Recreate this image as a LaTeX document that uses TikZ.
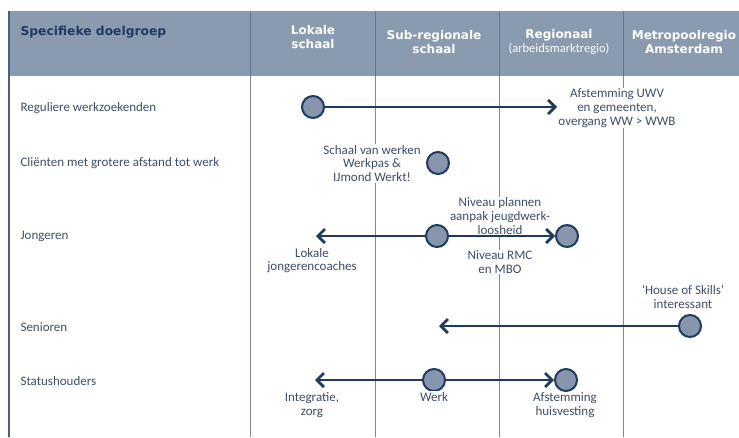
\documentclass[tikz,border=0pt]{standalone}
\usepackage{fontspec}
\setmainfont{Carlito}
\newfontfamily\kopfont{DejaVu Sans}
\usetikzlibrary{arrows.meta,positioning}
\definecolor{kopgrijs}{HTML}{8A9AAF}
\definecolor{navy}{HTML}{1F3A60}
\definecolor{bolgrijs}{HTML}{8796AD}
\definecolor{tekst}{HTML}{3F4F66}
\definecolor{lijn}{HTML}{7D8A9D}
\begin{document}
\begin{tikzpicture}[x=1pt,y=-1pt,
    groep/.style={anchor=west, text=tekst, font=\fontsize{13}{14}\selectfont},
    kop/.style={align=center, text=white, font=\kopfont\bfseries\fontsize{12}{14}\selectfont},
    uitleg/.style={align=center, fill=white, inner sep=1pt, text=tekst, font=\fontsize{13}{13.8}\selectfont},
    bol/.style={draw=navy, fill=bolgrijs, circle, line width=2pt, minimum size=22pt, inner sep=0pt},
    pijl/.style={draw=navy, line width=2.8pt, -{Straight Barb[length=7pt,width=14pt]}}]
    \useasboundingbox (0,0) rectangle (739,437);

    % kopregel
    \fill[kopgrijs] (9,11) rectangle (745,76);
    \node[anchor=west, text=navy, font=\kopfont\bfseries\fontsize{12.3}{14}\selectfont] (K0) at (17,32) {Specifieke doelgroep};
    \node[kop] (K1) at (313,37) {Lokale\\schaal};
    \node[kop] (K2) at (434,42) {Sub-regionale\\schaal};
    \node[kop] (K3) at (559,42) {Regionaal\\{\rmfamily\mdseries\fontsize{12.5}{14}\selectfont(arbeidsmarktregio)}};
    \node[kop] (K4) at (684,42) {Metropoolregio\\Amsterdam};

    % kolomlijnen
    \draw[navy!80, line width=1.2pt] (9,11) -- (9,437);
    \foreach \x in {250,375,499,623} {
        \draw[navy!70, line width=0.8pt] (\x,11) -- (\x,76);
        \draw[lijn, line width=0.7pt] (\x,76) -- (\x,437);
    }

    % doelgroepen
    \node[groep] (G1) at (17,108) {Reguliere werkzoekenden};
    \node[groep] (G2) at (17,163) {Cliënten met grotere afstand tot werk};
    \node[groep] (G3) at (17,236) {Jongeren};
    \node[groep] (G4) at (17,327) {Senioren};
    \node[groep] (G5) at (17,381) {Statushouders};

    % toelichting
    \node[uitleg] (T1) at (617,108) {Afstemming UWV\\en gemeenten,\\overgang WW > WWB};
    \node[uitleg] (T2) at (372,163.5) {Schaal van werken\\Werkpas \&\\IJmond Werkt!};
    \node[uitleg] (T3) at (500,216) {Niveau plannen\\aanpak jeugdwerk-\\loosheid};
    \node[uitleg] (T4) at (500,262) {Niveau RMC\\en MBO};
    \node[uitleg] (T5) at (312,260.5) {Lokale\\jongerencoaches};
    \node[uitleg] (T6) at (683,297) {`House of Skills'\\interessant};
    \node[uitleg] (T7) at (312,405) {Integratie,\\zorg};
    \node[uitleg] (T9) at (565,405) {Afstemming\\huisvesting};

    % bollen
    \node[bol] (A) at (313,107) {};
    \node[bol] (B) at (438,163) {};
    \node[bol] (C) at (437,236) {};
    \node[bol] (D) at (567,236) {};
    \node[bol] (E) at (690,326) {};
    \node[bol] (F) at (434,380) {};
    \node[bol] (G) at (566,380) {};
    \node[uitleg, below=-1pt of F] (T8) {Werk};

    \coordinate (a) at (557,107);
    \coordinate (c) at (316,236);
    \coordinate (e) at (439,326);
    \coordinate (f) at (315,380);

    \draw[pijl] (A) -- (a);
    \draw[pijl] (C) -- (c);
    \draw[pijl] (C) -- (D);
    \draw[pijl] (E) -- (e);
    \draw[pijl] (F) -- (f);
    \draw[pijl] (F) -- (G);
\end{tikzpicture}
\end{document}
